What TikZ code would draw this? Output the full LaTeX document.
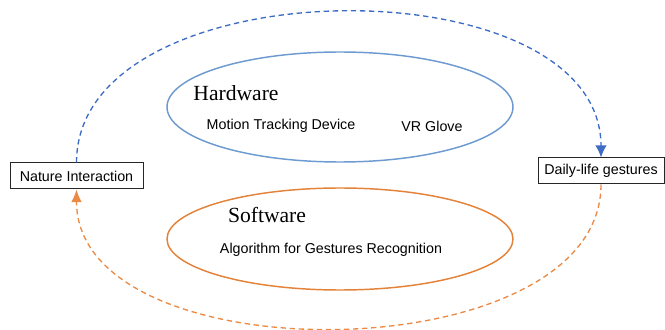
\documentclass[tikz,border=0pt]{standalone}
\usepackage{fontspec}
\setmainfont{Liberation Sans}
\newfontfamily\headfont{Liberation Serif}
\usepackage{tikz}
\usetikzlibrary{shapes, arrows.meta}
\definecolor{hwblue}{HTML}{6D9BD1}
\definecolor{arcblue}{HTML}{3D6CC6}
\definecolor{swor}{HTML}{E38238}
\definecolor{arcor}{HTML}{EB8A45}
\tikzstyle{block}=[draw=black!85, rectangle, line width=0.75pt, minimum height=19.5pt, inner sep=0pt, font=\fontsize{10.7}{12}\selectfont]
\tikzstyle{ring}=[draw, ellipse, line width=1.1pt, inner sep=0pt]
\tikzstyle{item}=[font=\fontsize{10.7}{12}\selectfont]
\tikzstyle{head}=[font=\headfont\fontsize{16.2}{18}\selectfont]
\tikzstyle{loopline}=[draw, line width=1pt, dash pattern=on 4pt off 2.8pt]

\begin{document}
\begin{tikzpicture}[x=0.75pt, y=0.75pt]
		\useasboundingbox (0,0) rectangle (665,329);
		\node[block, minimum width=99.75pt] (ni) at (76.5,153) {Nature Interaction};
		\node[block, minimum width=94.5pt] (dl) at (601,158) {Daily-life gestures};
		\node[ring, draw=hwblue, minimum width=259.5pt, minimum height=82.5pt] (hw) at (340,222) {};
		\node[ring, draw=swor, minimum width=259.5pt, minimum height=76.5pt] (sw) at (340,90) {};
		\node[head] (hwlabel) at (236,236) {Hardware};
		\node[item] (mtd) at (281,203) {Motion Tracking Device};
		\node[item] (vrg) at (432,203) {VR Glove};
		\node[head] (swlabel) at (267,114) {Software};
		\node[item] (agr) at (331,79) {Algorithm for Gestures Recognition};
		\draw[loopline, arcblue, -{Latex[length=9pt,width=8.5pt]}] (ni.north) .. controls +(0,197) and +(0,197) .. (dl.north);
		\draw[loopline, arcor, -{Latex[length=9.5pt,width=8pt]}] (dl.south) .. controls +(0,-188) and +(0,-188) .. (ni.south);
	\end{tikzpicture}
\end{document}
